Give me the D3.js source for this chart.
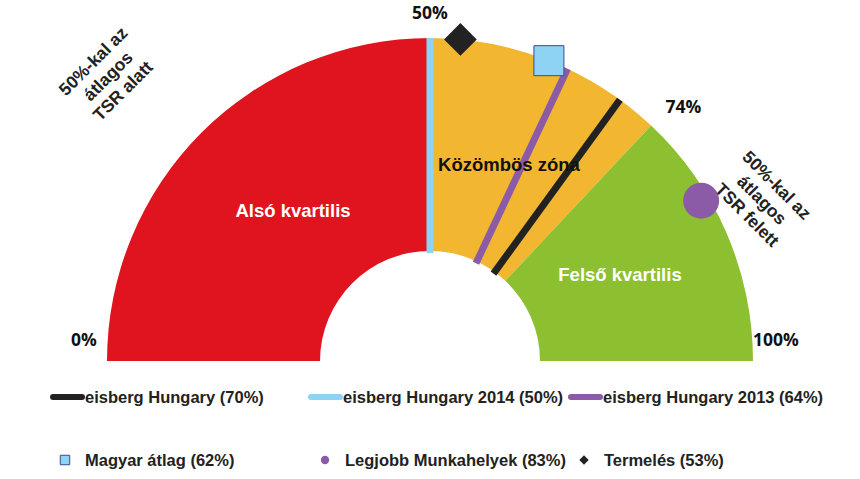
<!DOCTYPE html>
<html>
<head>
<meta charset="utf-8">
<script src="https://cdnjs.cloudflare.com/ajax/libs/d3/7.8.5/d3.min.js"></script>
<style>
  body { margin: 0; background: #fff; }
  text { font-family: "Liberation Sans", Arial, sans-serif; font-weight: bold; }
</style>
</head>
<body>
<script>
const width = 860;
const height = 479;

// zones of the gauge (percent)
const zoneNames = ["Alsó kvartilis", "Közömbös zóna", "Felső kvartilis"];
const zoneStart = [0, 50, 74];
const zoneEnd = [50, 74, 100];
const zoneColors = ["#DF141E", "#F2B630", "#8DC030"];

// needle lines
const lineNames = ["eisberg Hungary (70%)", "eisberg Hungary 2014 (50%)", "eisberg Hungary 2013 (64%)"];
const lineValues = [70, 50, 64];
const lineColors = ["#222222", "#8ED3F4", "#8B5BA8"];

// markers
const markerNames = ["Magyar átlag (62%)", "Legjobb Munkahelyek (83%)", "Termelés (53%)"];
const markerValues = [62, 83, 53];
const markerShapes = ["square", "circle", "diamond"];
const markerColors = ["#8ED3F4", "#8B5BA8", "#222222"];

// tick labels
const tickValues = [0, 50, 74, 100];
const tickLabels = ["0%", "50%", "74%", "100%"];

const cx = 430, cy = 361;
const outerR = 323, innerR = 110;

const angle = d3.scaleLinear().domain([0, 100]).range([-Math.PI / 2, Math.PI / 2]);
const polar = (v, r) => [cx + r * Math.sin(angle(v)), cy - r * Math.cos(angle(v))];

const svg = d3.select("body").append("svg").attr("width", width).attr("height", height);

// tick labels (drawn first, the arc covers the edge of "100%")
svg.selectAll("text.tick").data(tickValues).enter().append("text").classed("tick", true)
    .attr("x", d => polar(d, d === 74 ? 344 : 346)[0])
    .attr("y", d => polar(d, d === 74 ? 344 : 342)[1])
    .attr("dy", d => (d === 0 || d === 100) ? -15 : (d === 74 ? 3 : 0))
    .attr("text-anchor", d => d === 74 ? "start" : "middle")
    .style("font-family", "'Open Sans', sans-serif")
    .style("font-size", "17.5px").style("fill", "#111")
    .text((d, i) => tickLabels[i]);

const g = svg.append("g");
const arc = d3.arc().innerRadius(innerR).outerRadius(outerR);

g.selectAll("path.zone").data(zoneNames).enter().append("path").classed("zone", true)
    .attr("transform", `translate(${cx},${cy})`)
    .attr("d", (d, i) => arc({ startAngle: angle(zoneStart[i]), endAngle: angle(zoneEnd[i]) }))
    .style("fill", (d, i) => zoneColors[i]);

// needle lines
g.selectAll("line.needle").data(lineValues).enter().append("line").classed("needle", true)
    .attr("x1", d => polar(d, innerR - 2)[0]).attr("y1", d => polar(d, innerR - 2)[1])
    .attr("x2", d => polar(d, outerR)[0]).attr("y2", d => polar(d, outerR)[1])
    .style("stroke", (d, i) => lineColors[i]).style("stroke-width", 7);

// zone labels
const zoneLabelPos = [[293, 217], [509, 171], [620, 281]];
const zoneLabelColors = ["#fff", "#111", "#fff"];
g.selectAll("text.zone").data(zoneNames).enter().append("text").classed("zone", true)
    .attr("x", (d, i) => zoneLabelPos[i][0]).attr("y", (d, i) => zoneLabelPos[i][1])
    .attr("text-anchor", "middle").style("font-size", "18.5px")
    .style("fill", (d, i) => zoneLabelColors[i]).text(d => d);

// markers
const symbolType = { square: d3.symbolSquare, circle: d3.symbolCircle, diamond: d3.symbolDiamond2 };
const markerSize = { square: 900, circle: 1020, diamond: 680 };
const markerR = [outerR, outerR - 8, outerR];
g.selectAll("path.marker").data(markerValues).enter().append("path").classed("marker", true)
    .attr("transform", (d, i) => {
        const p = polar(d, markerR[i]);
        return `translate(${p[0]},${p[1]})`;
    })
    .attr("d", (d, i) => d3.symbol().type(symbolType[markerShapes[i]]).size(markerSize[markerShapes[i]])())
    .style("fill", (d, i) => markerColors[i])
    .style("stroke", (d, i) => markerShapes[i] === "square" ? "#3a4a8a" : "none")
    .style("stroke-width", 1);

// rotated side notes
const sideNotes = [
    { lines: ["50%-kal az", "átlagos", "TSR alatt"], x: 108, y: 76, rot: -45 },
    { lines: ["50%-kal az", "átlagos", "TSR felett"], x: 762, y: 200, rot: 45 }
];
sideNotes.forEach(n => {
    const t = svg.append("text")
        .attr("transform", `translate(${n.x},${n.y}) rotate(${n.rot})`)
        .attr("text-anchor", "middle").style("font-size", "17.5px").style("fill", "#222");
    n.lines.forEach((l, i) => {
        t.append("tspan").attr("x", 0).attr("y", (i - 1) * 21 + 6).text(l);
    });
});

// legend row 1: lines
const legend1X = [50, 308, 568];
const leg1 = svg.selectAll("g.leg1").data(lineNames).enter().append("g").classed("leg1", true)
    .attr("transform", (d, i) => `translate(${legend1X[i]},397)`);
leg1.append("line").attr("x1", 3).attr("x2", 32).attr("y1", 0).attr("y2", 0)
    .style("stroke", (d, i) => lineColors[i]).style("stroke-width", 6).style("stroke-linecap", "round");
leg1.append("text").attr("x", 35).attr("y", 6).style("font-size", "16.5px").style("fill", "#222").text(d => d);

// legend row 2: markers
const legend2X = [65, 325, 584];
const leg2 = svg.selectAll("g.leg2").data(markerNames).enter().append("g").classed("leg2", true)
    .attr("transform", (d, i) => `translate(${legend2X[i]},460)`);
leg2.append("path")
    .attr("d", (d, i) => d3.symbol().type(symbolType[markerShapes[i]]).size(markerShapes[i] === "square" ? 90 : 55)())
    .style("fill", (d, i) => markerColors[i])
    .style("stroke", (d, i) => markerShapes[i] === "square" ? "#3a4a8a" : "none");
leg2.append("text").attr("x", 20).attr("y", 6).style("font-size", "16.5px").style("fill", "#222").text(d => d);
</script>
</body>
</html>
